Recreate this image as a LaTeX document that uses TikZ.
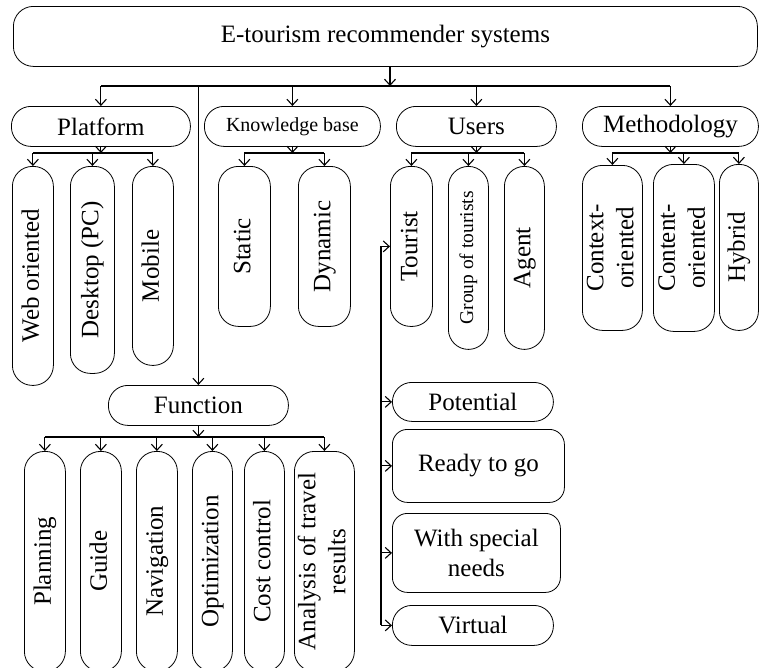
\documentclass[tikz,border=0pt]{standalone}
\usepackage{fontspec}
\usepackage{graphicx}
\setmainfont{Liberation Serif}
\usetikzlibrary{arrows.meta}
\tikzset{
  bx/.style={draw, line width=0.8pt, inner sep=0pt, anchor=north west,
    rounded corners=#1, align=center, font=\fontsize{25}{30}\selectfont},
  bx/.default=19.5pt,
  con/.style={line width=1.1pt},
  arr/.style={con, -{Straight Barb[length=6pt,width=11pt]}},
}
\newcommand{\vt}[1]{\rotatebox{90}{\begin{tabular}{@{}c@{}}#1\end{tabular}}}
\begin{document}
\begin{tikzpicture}[x=1pt,y=-1pt]
\clip (0,0) rectangle (759,667);
% root
\node[bx=20pt, minimum width=744pt, minimum height=60pt] (top) at (13,6) {E-tourism recommender systems};
% level 2
\node[bx, minimum width=179pt, minimum height=40pt] (plat) at (11,106) {Platform};
\node[bx, minimum width=176pt, minimum height=40pt, font=\fontsize{20}{24}\selectfont] (kb) at (204,106) {Knowledge base};
\node[bx, minimum width=160pt, minimum height=40pt] (users) at (396,106) {Users};
\node[bx, minimum width=176pt, minimum height=40pt] (meth) at (582,106) {Methodology};
\node[bx, minimum width=180pt, minimum height=40pt] (func) at (108,385) {Function};
% platform children
\node[bx=20pt, minimum width=41pt, minimum height=219pt] (web) at (12,166) {\vt{Web oriented}};
\node[bx=20pt, minimum width=44pt, minimum height=207pt] (desk) at (70,166) {\vt{Desktop (PC)}};
\node[bx=20pt, minimum width=41pt, minimum height=199pt] (mob) at (132,166) {\vt{Mobile}};
% knowledge base children
\node[bx=20pt, minimum width=52pt, minimum height=160pt] (stat) at (218,166) {\vt{Static}};
\node[bx=20pt, minimum width=52pt, minimum height=160pt] (dyn) at (298,166) {\vt{Dynamic}};
% users children
\node[bx=20pt, minimum width=42pt, minimum height=160pt] (tour) at (390,166) {\vt{Tourist}};
\node[bx=20pt, minimum width=40pt, minimum height=183pt, font=\fontsize{19.5}{23}\selectfont] (grp) at (448,166) {\vt{Group of tourists}};
\node[bx=20pt, minimum width=40pt, minimum height=183pt] (agent) at (504,166) {\vt{Agent}};
% methodology children
\node[bx=20pt, minimum width=60pt, minimum height=165pt] (ctx) at (582,165) {\vt{Context-\\oriented}};
\node[bx=20pt, minimum width=61pt, minimum height=167pt] (cnt) at (653,164) {\vt{Content-\\oriented}};
\node[bx=19pt, minimum width=39pt, minimum height=166pt] (hyb) at (719,164) {\vt{Hybrid}};
% function children
\node[bx=20pt, minimum width=41pt, minimum height=220pt] (plan) at (24,451) {\vt{Planning}};
\node[bx=20pt, minimum width=41pt, minimum height=220pt] (guide) at (80,451) {\vt{Guide}};
\node[bx=20pt, minimum width=41pt, minimum height=220pt] (nav) at (136,451) {\vt{Navigation}};
\node[bx=20pt, minimum width=40pt, minimum height=220pt] (opt) at (192,451) {\vt{Optimization}};
\node[bx=20pt, minimum width=40pt, minimum height=220pt] (cost) at (244,451) {\vt{Cost control}};
\node[bx=20pt, minimum width=60pt, minimum height=220pt] (ana) at (294,451) {\vt{Analysis of travel\\results}};
% tourist types
\node[bx, minimum width=161pt, minimum height=39pt] (pot) at (392,382) {Potential};
\node[bx=15pt, minimum width=172pt, minimum height=73pt] (ready) at (392,429) {Ready to go};
\node[bx=15pt, minimum width=168pt, minimum height=79pt] (spec) at (392,513) {With special\\needs};
\node[bx, minimum width=161pt, minimum height=40pt] (virt) at (392,605) {Virtual};
% bus levels
\coordinate (b0) at (390,86);
\coordinate (pb) at (0,153);
\coordinate (fb) at (0,437);
\coordinate (tb) at (381,0);
% root connections
\draw[arr] (b0 |- top.south) -- (b0);
\draw[con] (plat.north |- b0) -- (meth.north |- b0);
\draw[arr] (plat.north |- b0) -- (plat.north);
\draw[arr] (kb.north |- b0) -- (kb.north);
\draw[arr] (users.north |- b0) -- (users.north);
\draw[arr] (meth.north |- b0) -- (meth.north);
\draw[arr] (func.north |- b0) -- (func.north);
% platform
\draw[arr] (plat.south) -- (plat.south |- pb);
\draw[con] (web.north |- pb) -- (mob.north |- pb);
\foreach \n in {web,desk,mob} \draw[arr] (\n.north |- pb) -- (\n.north);
% knowledge base
\draw[arr] (kb.south) -- (kb.south |- pb);
\draw[con] (stat.north |- pb) -- (dyn.north |- pb);
\foreach \n in {stat,dyn} \draw[arr] (\n.north |- pb) -- (\n.north);
% users
\draw[arr] (users.south) -- (users.south |- pb);
\draw[con] (tour.north |- pb) -- (agent.north |- pb);
\foreach \n in {tour,grp,agent} \draw[arr] (\n.north |- pb) -- (\n.north);
% methodology
\draw[arr] (meth.south) -- (meth.south |- pb);
\draw[con] (ctx.north |- pb) -- (hyb.north |- pb);
\foreach \n in {ctx,cnt,hyb} \draw[arr] (\n.north |- pb) -- (\n.north);
% function
\draw[arr] (func.south) -- (func.south |- fb);
\draw[con] (plan.north |- fb) -- (ana.north |- fb);
\foreach \n in {plan,guide,nav,opt,cost,ana} \draw[arr] (\n.north |- fb) -- (\n.north);
% tourist branch
\draw[con] (tb |- tour.west) -- (tb |- virt.west);
\foreach \n in {tour,pot,ready,spec,virt} \draw[arr] (tb |- \n.west) -- (\n.west);
\end{tikzpicture}
\end{document}
